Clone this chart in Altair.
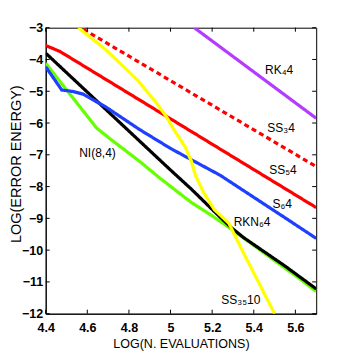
import altair as alt
import pandas as pd

# ---- data ----
rk4_x = [5.114, 5.7]
rk4_y = [-3.0, -5.85]

ss3_x = [4.581, 5.7]
ss3_y = [-3.05, -7.37]

ss5_x = [4.4, 4.469, 5.7]
ss5_y = [-3.56, -3.75, -8.66]

s6_x = [4.4, 4.477, 4.533, 4.58, 4.69, 4.85, 5.0, 5.24, 5.566, 5.7]
s6_y = [-4.23, -4.96, -5.01, -5.09, -5.5, -6.2, -6.8, -7.65, -9.05, -9.63]

ni_x = [4.4, 4.645, 4.72, 4.85, 4.95, 5.1, 5.2, 5.29, 5.4, 5.5, 5.6, 5.7]
ni_y = [-4.12, -6.16, -6.55, -7.2, -7.74, -8.5, -8.92, -9.33, -9.85, -10.33, -10.8, -11.3]

rkn_x = [4.4, 5.0, 5.1, 5.2, 5.29, 5.35, 5.45, 5.55, 5.7]
rkn_y = [-3.8, -7.48, -8.08, -8.72, -9.28, -9.6, -10.05, -10.5, -11.22]

ss35_x = [4.557, 4.69, 4.84, 4.93, 4.98, 5.02, 5.07, 5.10, 5.12, 5.16, 5.21, 5.28, 5.35, 5.43, 5.50]
ss35_y = [-3.0, -3.70, -4.64, -5.35, -5.8, -6.25, -6.75, -7.2, -7.65, -8.2, -8.72, -9.15, -10.08, -11.1, -12.0]

series = ["NI(8,4)", "RKN64", "S64", "SS54", "SS34", "SS3510", "RK44"]
colors = ["#66FF00", "#000000", "#1F3FFF", "#FF0000", "#FF0000", "#FFFF00", "#B43CFF"]
dashed = [False, False, False, False, True, False, False]
xs = [ni_x, rkn_x, s6_x, ss5_x, ss3_x, ss35_x, rk4_x]
ys = [ni_y, rkn_y, s6_y, ss5_y, ss3_y, ss35_y, rk4_y]

label_text = ["RK\u20844", "SS\u20834", "SS\u20854", "S\u20864", "RKN\u20864", "SS\u2083\u208510", "NI(8,4)"]
label_x = [5.522, 5.531, 5.54, 5.537, 5.392, 5.338, 4.649]
label_y = [-4.33, -6.16, -7.47, -8.55, -9.10, -11.56, -6.95]

x_ticks = [4.4, 4.6, 4.8, 5.0, 5.2, 5.4, 5.6]
y_ticks = [-12, -11, -10, -9, -8, -7, -6, -5, -4, -3]

x_domain = [4.4, 5.7]
y_domain = [-12, -3]

# ---- tables ----
rows = []
for i, (name, xv, yv) in enumerate(zip(series, xs, ys)):
    for j, (a, b) in enumerate(zip(xv, yv)):
        rows.append({"series": name, "x": a, "y": b, "ord": j, "z": i,
                     "dash": "dash" if dashed[i] else "solid"})
df = pd.DataFrame(rows)
lab = pd.DataFrame({"t": label_text, "x": label_x, "y": label_y})
xt = pd.DataFrame({"x": x_ticks})
yt = pd.DataFrame({"y": y_ticks})

W, H = 270.5, 286
FONT = "Liberation Sans, Arial"

xs_ = alt.Scale(domain=x_domain, nice=False, zero=False)
ys_ = alt.Scale(domain=y_domain, nice=False, zero=False)

x_axis = alt.Axis(values=x_ticks, format="~g", ticks=False, grid=False,
                  labelFont=FONT, labelFontSize=12.5, labelFontWeight="bold",
                  labelPadding=8, titleFont=FONT,
                  titleFontSize=12.5, titleFontWeight="normal",
                  titleX=W / 2, titleY=30, titleBaseline="middle",
                  domainColor="black", labelColor="black", titleColor="black",
                  labelFlush=False)
y_axis = alt.Axis(values=y_ticks, format="d", ticks=False, grid=False,
                  labelFont=FONT, labelFontSize=12.5, labelFontWeight="bold",
                  labelPadding=3, titleFont=FONT,
                  titleFontSize=14.5, titleFontWeight="normal",
                  titleX=-29.5, titleY=H / 2 - 7, titleBaseline="middle",
                  domainColor="black", labelColor="black", titleColor="black",
                  labelFlush=False)
XT = "LOG(N. EVALUATIONS)"
YT = "LOG(ERROR ENERGY)"

lines = alt.Chart(df).mark_line(strokeWidth=3.2, clip=True).encode(
    x=alt.X("x:Q", scale=xs_, title=XT, axis=x_axis),
    y=alt.Y("y:Q", scale=ys_, title=YT, axis=y_axis),
    color=alt.Color("series:N", scale=alt.Scale(domain=series, range=colors), legend=None),
    strokeDash=alt.StrokeDash("dash:N", scale=alt.Scale(domain=["solid", "dash"],
                                                        range=[[1, 0], [5, 3.5]]), legend=None),
    detail="series:N",
    order="ord:Q",
)

texts = alt.Chart(lab).mark_text(font=FONT, fontSize=12, color="black",
                                 align="center", baseline="middle").encode(
    x=alt.X("x:Q", scale=xs_, title=XT, axis=x_axis),
    y=alt.Y("y:Q", scale=ys_, title=YT, axis=y_axis),
    text="t:N",
)

tb = alt.Chart(xt).mark_rule(color="black", strokeWidth=1).encode(
    x=alt.X("x:Q", scale=xs_, title=XT, axis=x_axis), y=alt.value(H), y2=alt.value(H - 4))
tt = alt.Chart(xt).mark_rule(color="black", strokeWidth=1).encode(
    x=alt.X("x:Q", scale=xs_, title=XT, axis=x_axis), y=alt.value(0), y2=alt.value(4))
tl = alt.Chart(yt).mark_rule(color="black", strokeWidth=1).encode(
    y=alt.Y("y:Q", scale=ys_, title=YT, axis=y_axis), x=alt.value(0), x2=alt.value(4))
tr = alt.Chart(yt).mark_rule(color="black", strokeWidth=1).encode(
    y=alt.Y("y:Q", scale=ys_, title=YT, axis=y_axis), x=alt.value(W), x2=alt.value(W - 4))

chart = alt.layer(lines, texts, tb, tt, tl, tr).properties(
    width=W, height=H,
    padding={"left": 37.7, "top": 19.7, "right": 24, "bottom": 38},
    autosize=alt.AutoSizeParams(type="none"),
    background="white",
).configure_view(stroke="black", strokeWidth=1)

chart.save("out.html", embed_options={"renderer": "svg", "actions": False})
